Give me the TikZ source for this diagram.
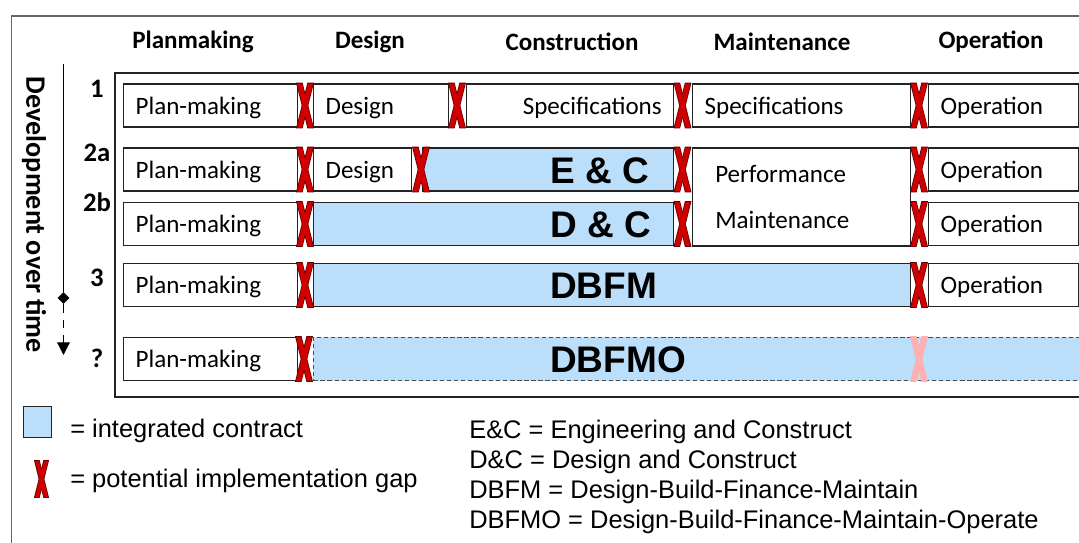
\documentclass[tikz,border=0pt]{standalone}
\usepackage{fontspec}
\setmainfont{Carlito}
\newfontfamily\arialfont{Liberation Sans}
\usetikzlibrary{arrows.meta,shapes.geometric,positioning}
\definecolor{ctblue}{RGB}{187,223,250}
\definecolor{gapred}{RGB}{208,0,0}
\definecolor{gapdark}{RGB}{95,0,0}
\definecolor{gappink}{RGB}{255,176,176}
\definecolor{boxline}{RGB}{35,35,35}

\begin{document}
\begin{tikzpicture}[x=0.025cm,y=-0.025cm,
		cell/.style={draw=boxline,line width=0.9pt,fill=white,minimum height=1.08cm,inner xsep=0.3cm,inner ysep=0pt,text depth=0pt,anchor=west,align=left,font=\fontsize{17.8}{20}\selectfont},
		boxtxt/.style={inner sep=0pt,anchor=west,font=\fontsize{17.8}{20}\selectfont},
		contract/.style={draw=boxline,line width=0.9pt,fill=ctblue,minimum height=1.08cm,anchor=west},
		bigtxt/.style={inner sep=0pt,anchor=west,font=\arialfont\bfseries\fontsize{26.3}{28}\selectfont},
		head/.style={font=\bfseries\fontsize{17.8}{20}\selectfont},
		rowlbl/.style={font=\bfseries\fontsize{19}{20}\selectfont},
		keytxt/.style={anchor=west,inner sep=0pt,font=\arialfont\fontsize{18.1}{21.3}\selectfont},
		pics/gap/.style 2 args={code={
			\foreach \s in {1,-1}
				\draw[#2,line width=1.1pt,line join=miter] (-8*\s,-22) -- (-3*\s,-22) -- (8*\s,22) -- (3*\s,22) -- cycle;
			\foreach \s in {1,-1}
				\fill[#1] (-8*\s,-22) -- (-3*\s,-22) -- (8*\s,22) -- (3*\s,22) -- cycle;
		}}]
		\clip (0,0) rectangle (1079,542);
		\draw[line width=1.3pt,black!60] (11.5,16) rectangle (1100,600);
		\draw[line width=1.1pt,boxline] (115,73) rectangle (1100,397);
		\foreach \x/\t in {193/Planmaking,370/Design,572/Construction,782/Maintenance,991/Operation} {
			\node[head] (h\t) at (\x,42) {\t};
		}
		\node[rotate=-90,font=\bfseries\fontsize{20}{22}\selectfont] (devtime) at (34,215) {Development over time};
		\coordinate (ttop) at (63.5,64);
		\coordinate (tend) at (63.5,355);
		\node[diamond,fill=black,inner sep=0pt,minimum size=0.3cm] (tdia) at (63.5,298) {};
		\draw[line width=0.8pt] (ttop) -- (tdia);
		\draw[line width=0.8pt,dash pattern=on 6pt off 5pt,-{Triangle[width=9pt,length=9pt]}] (tdia) -- (tend);
		\foreach \y/\t in {89/1,153/2a,202/2b,278/3,358/?} {
			\node[rowlbl] (r\t) at (97,\y) {\t};
		}
		\foreach \y/\n in {105.5/1,169.5/2,224/3,285/4,359/5} {
			\node[cell,minimum width=4.35cm,text width=3.75cm] (plan\n) at (123,\y) {Plan-making};
		}
		\foreach \y/\n in {105.5/1,169.5/2,224/3,285/4} {
			\node[cell,minimum width=3.75cm,text width=3.15cm] (oper\n) at (928,\y) {Operation};
		}
		\node[cell,minimum width=3.375cm,text width=2.775cm] (design1) at (313,105.5) {Design};
		\node[cell,minimum width=5.175cm,text width=4.575cm,align=right] (spec1) at (466,105.5) {Specifications};
		\node[cell,minimum width=5.45cm,text width=4.85cm] (spec2) at (692,105.5) {Specifications};
		\node[cell,minimum width=2.45cm,text width=1.85cm] (design2) at (313,169.5) {Design};
		\node[cell,minimum width=5.45cm,minimum height=2.45cm] (perf) at (692,197) {};
		\node[boxtxt] (perftxt) at (715,174) {Performance};
		\node[boxtxt] (mainttxt) at (715,220) {Maintenance};
		\node[contract,minimum width=6.275cm] (ec) at (422,169.5) {};
		\node[contract,minimum width=9cm] (dc) at (313,224) {};
		\node[contract,minimum width=14.925cm] (dbfm) at (313,285) {};
		\node[contract,minimum width=19.5cm,draw=black!70,line width=0.6pt,dash pattern=on 3pt off 2pt] (dbfmo) at (313,359) {};
		\node[bigtxt] (ectxt) at (550,170.5) {E \& C};
		\node[bigtxt] (dctxt) at (550,225) {D \& C};
		\node[bigtxt] (dbfmtxt) at (550,286) {DBFM};
		\node[bigtxt] (dbfmotxt) at (550,360) {DBFMO};
		\foreach \x/\y in {305/105.5,457/105.5,682.5/105.5,919/105.5,305/169.5,421/169.5,682.5/169.5,919/169.5,305/224,682.5/224,919/224,305/285,919/285,304/359} {
			\pic at (\x,\y) {gap={gapred}{gapdark}};
		}
		\pic at (919,359) {gap={gappink}{gappink}};
		\node[draw=boxline,fill=ctblue,line width=0.9pt,minimum width=0.7cm,minimum height=0.775cm,anchor=north west] (keybox) at (23,406) {};
		\pic[scale=0.82] at (41.5,479) {gap={gapred}{gapdark}};
		\node[keytxt] (keyint) at (70,431) {= integrated contract};
		\node[keytxt] (keygap) at (70,481) {= potential implementation gap};
		\node[keytxt,align=left] (abbr) at (469,477) {E\&C = Engineering and Construct\\D\&C = Design and Construct\\DBFM = Design-Build-Finance-Maintain\\DBFMO = Design-Build-Finance-Maintain-Operate};
	\end{tikzpicture}
\end{document}
